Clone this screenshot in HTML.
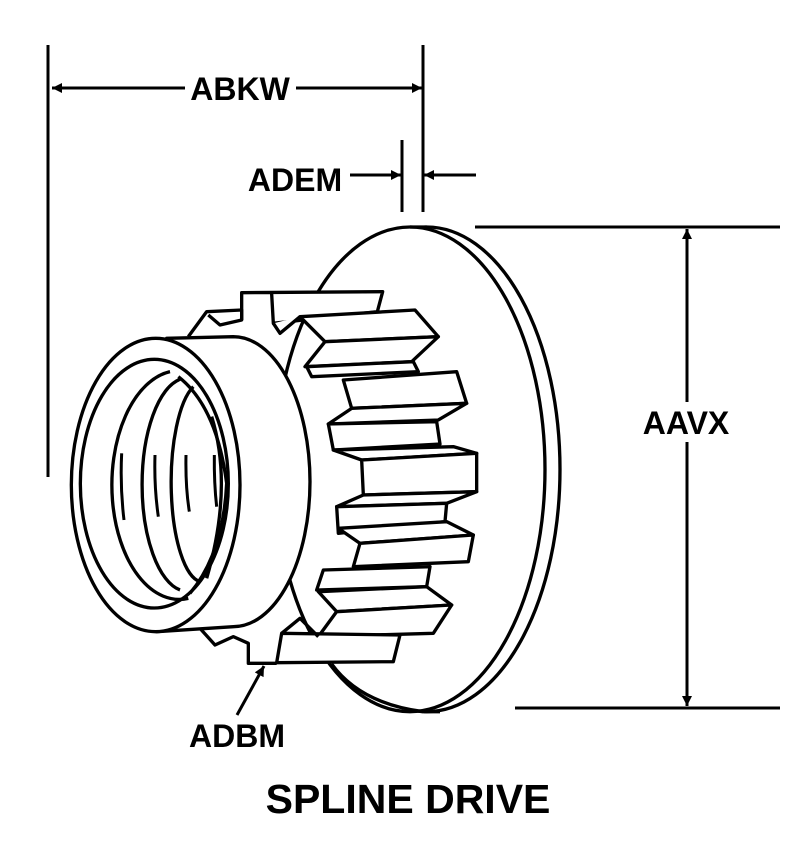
<!DOCTYPE html>
<html><head><style>
html,body{margin:0;padding:0;background:#fff;}
svg{display:block;}
text{font-family:"Liberation Sans",Arial,sans-serif;font-weight:bold;fill:#000;}
</style></head><body>
<svg width="798" height="858" viewBox="0 0 798 858" xmlns="http://www.w3.org/2000/svg">
<defs>
<marker id="arL" viewBox="0 0 10 10" refX="10" refY="5" markerWidth="12" markerHeight="10" markerUnits="userSpaceOnUse" orient="auto"><path d="M0,0 L10,5 L0,10 z" fill="#000"/></marker>
</defs>
<g stroke="#000" stroke-width="3" fill="none">
<line x1="48" y1="45" x2="48" y2="477"/>
<line x1="423" y1="45" x2="423" y2="212"/>
<line x1="185" y1="88" x2="52" y2="88" marker-end="url(#arL)"/>
<line x1="296" y1="88" x2="422" y2="88" marker-end="url(#arL)"/>
<line x1="402" y1="140" x2="402" y2="212"/>
<line x1="350" y1="175" x2="401" y2="175" marker-end="url(#arL)"/>
<line x1="476" y1="175" x2="424" y2="175" marker-end="url(#arL)"/>
<line x1="475" y1="227" x2="780" y2="227"/>
<line x1="515" y1="708" x2="780" y2="708"/>
<line x1="687" y1="402" x2="687" y2="229" marker-end="url(#arL)"/>
<line x1="687" y1="442" x2="687" y2="706" marker-end="url(#arL)"/>
<line x1="237" y1="715" x2="264" y2="666" marker-end="url(#arL)"/>
</g>
<g transform="translate(60,220) scale(0.33333)" stroke="#000" stroke-width="10" fill="#fff" stroke-linejoin="round">
<ellipse cx="1100" cy="748" rx="400" ry="727"/>
<ellipse cx="1050" cy="748" rx="405" ry="727"/>
<line x1="1050" y1="21" x2="1100" y2="21"/>
<line x1="1090" y1="1475" x2="1140" y2="1475"/>
<path d="M545,300 L545,218 L968,215 L952,275 L640,310 L635,222"/>
<path d="M385,350 L440,275 L545,270 L545,300 L480,315 L445,285"/>
<path d="M640,310 L660,340 L720,290"/>
<path d="M720,290 L1065,270 L1135,350 L795,365 Z"/>
<path d="M795,365 L735,440 L1055,425 L1135,350 Z"/>
<path d="M740,440 L755,470 L1075,455 L1060,425 Z"/>
<path d="M850,480 L1190,455 L1220,550 L875,565 Z"/>
<path d="M875,565 L805,612 L1135,600 L1220,550 Z"/>
<path d="M805,612 L820,690 L1140,672 L1130,605 Z"/>
<path d="M820,690 L1180,680 L1250,700 L905,720 Z"/>
<path d="M905,720 L910,825 L1250,815 L1250,700 Z"/>
<path d="M910,825 L830,860 L1160,850 L1250,815 Z"/>
<path d="M830,860 L835,940 L1155,905 L1160,850 Z"/>
<path d="M835,925 L1160,905 L1240,945 L900,970 Z"/>
<path d="M900,970 L880,1040 L1225,1025 L1240,945 Z"/>
<path d="M790,1050 L770,1110 L1100,1100 L1110,1040 Z"/>
<path d="M775,1115 L1100,1100 L1175,1155 L830,1175 Z"/>
<path d="M830,1175 L775,1250 L1120,1240 L1175,1155 Z"/>
<path d="M665,1240 L650,1328 L1000,1325 L1020,1245 Z"/>
<path d="M420,1225 L465,1275 L520,1250 L565,1270 L565,1330 L650,1330" />
<path d="M665,1240 L720,1195 L775,1250" fill="none"/>
<path d="M815,1332 Q900,1450 1090,1475" fill="none"/>
<path d="M320,355 L520,350 A230,435 0 0 1 520,1220 L290,1235 Z"/>
<ellipse cx="287" cy="795" rx="253" ry="440"/>
<ellipse cx="283" cy="791" rx="222" ry="373"/>
<path d="M330,455 A200,340 0 0 0 385,1135" fill="none"/>
<path d="M360,478 A135,320 0 0 0 360,1110" fill="none"/>
<path d="M400,500 A95,300 0 0 0 420,1085" fill="none"/>
<path d="M355,470 Q470,560 500,790 Q490,1000 390,1120" fill="none"/>
<path d="M455,590 Q520,800 440,1075" fill="none"/>
<path d="M185,700 Q180,800 192,900" fill="none" stroke-width="9"/>
<path d="M285,705 Q282,800 295,890" fill="none" stroke-width="9"/>
<path d="M378,705 Q376,800 388,875" fill="none" stroke-width="9"/>
<path d="M463,705 Q462,790 470,860" fill="none" stroke-width="9"/>
</g>
<text x="240" y="100" font-size="32" text-anchor="middle">ABKW</text>
<text x="295" y="191" font-size="32" text-anchor="middle">ADEM</text>
<text x="686" y="434" font-size="32" text-anchor="middle">AAVX</text>
<text x="237" y="747" font-size="32" text-anchor="middle">ADBM</text>
<text x="408" y="813" font-size="41" text-anchor="middle">SPLINE DRIVE</text>
</svg>
</body></html>
